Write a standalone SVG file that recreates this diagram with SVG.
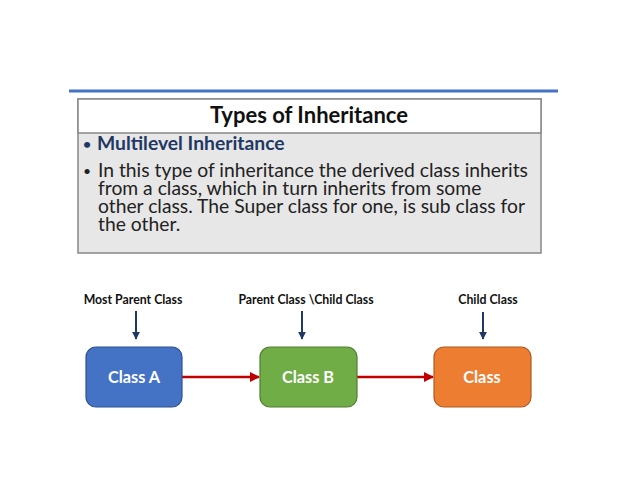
<svg xmlns="http://www.w3.org/2000/svg" width="638" height="478" viewBox="0 0 638 478">
<style>
.t{font-family:Lato,"Open Sans","Liberation Sans",sans-serif}
.lbl{font-family:Lato,"Open Sans","Liberation Sans",sans-serif;font-weight:bold;font-size:12.3px;fill:#111;text-anchor:middle}
.node{stroke-width:1.2}
.ntext{font-family:Lato,"Open Sans","Liberation Sans",sans-serif;font-weight:bold;font-size:16.3px;fill:#fff;text-anchor:middle}
.down{stroke:#1f3864;stroke-width:2;fill:none}
.red{stroke:#c00000;stroke-width:2.5;fill:none}
</style>
<defs>
<marker id="ah-down" viewBox="0 0 10 10" refX="9" refY="5" markerWidth="4" markerHeight="4" orient="auto" markerUnits="strokeWidth"><path d="M0,0 L10,5 L0,10 z" fill="#1f3864"/></marker>
<marker id="ah-red" viewBox="0 0 10 10" refX="9" refY="5" markerWidth="4" markerHeight="4" orient="auto" markerUnits="strokeWidth"><path d="M0,0 L10,5 L0,10 z" fill="#c00000"/></marker>
</defs>
<rect width="638" height="478" fill="#fff"/>
<line x1="69" y1="91" x2="558" y2="91" stroke="#4472c4" stroke-width="3"/>
<g id="panel">
<rect x="78" y="99" width="463" height="154" fill="#e7e7e7" stroke="#888" stroke-width="1.5"/>
<rect x="78" y="99" width="463" height="34" fill="#fff" stroke="#888" stroke-width="1.5"/>
<text class="t" x="309" y="123" font-size="22" font-weight="bold" text-anchor="middle" fill="#111">Types of Inheritance</text>
<text class="t" x="83" y="149" font-size="14" font-weight="bold" fill="#1f3864">•</text>
<text class="t" x="97" y="150" font-size="19.3" font-weight="bold" fill="#1f3864">Multilevel Inheritance</text>
<text class="t" x="83" y="176" font-size="14" fill="#222">•</text>
<g class="t" font-size="19.3" fill="#222">
<text x="98" y="177">In this type of inheritance the derived class inherits</text>
<text x="98" y="195">from a class, which in turn inherits from some</text>
<text x="98" y="213">other class. The Super class for one, is sub class for</text>
<text x="98" y="231">the other.</text>
</g>
</g>
<g id="labels">
<text class="lbl" x="133" y="304">Most Parent Class</text>
<text class="lbl" x="306" y="304">Parent Class \Child Class</text>
<text class="lbl" x="488" y="304">Child Class</text>
</g>
<g id="connectors">
<line class="down" x1="136" y1="311" x2="136" y2="339" marker-end="url(#ah-down)"/>
<line class="down" x1="302" y1="311" x2="302" y2="339" marker-end="url(#ah-down)"/>
<line class="down" x1="483" y1="312" x2="483" y2="339" marker-end="url(#ah-down)"/>
<line class="red" x1="182" y1="377" x2="259" y2="377" marker-end="url(#ah-red)"/>
<line class="red" x1="357" y1="377" x2="433" y2="377" marker-end="url(#ah-red)"/>
</g>
<g id="classA">
<rect class="node" x="86" y="347" width="96" height="60" rx="10" fill="#4472c4" stroke="#2f528f"/>
<text class="ntext" x="134" y="383">Class A</text>
</g>
<g id="classB">
<rect class="node" x="260" y="347" width="97" height="60" rx="10" fill="#70ad47" stroke="#507e32"/>
<text class="ntext" x="308" y="383">Class B</text>
</g>
<g id="classC">
<rect class="node" x="434" y="347" width="97" height="60" rx="10" fill="#ed7d31" stroke="#ae5a21"/>
<text class="ntext" x="482" y="383">Class</text>
</g>
</svg>
